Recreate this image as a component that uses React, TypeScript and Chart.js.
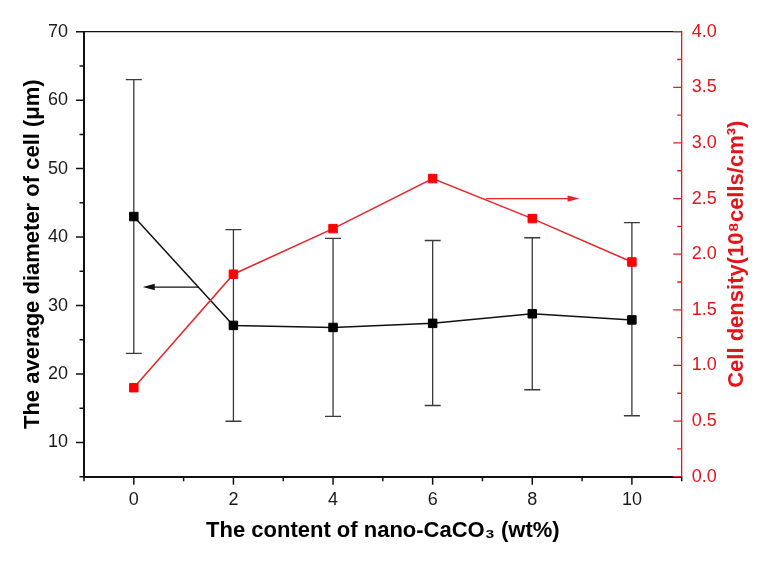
import React, { useEffect, useRef } from 'react';
import { Chart, registerables } from 'chart.js';
Chart.register(...registerables);

// ---- data ----
const contents = [0, 2, 4, 6, 8, 10];
const diameter = [43.0, 27.1, 26.8, 27.4, 28.8, 27.9];
const diameterUpper = [63.0, 41.1, 39.8, 39.5, 39.9, 42.1];
const diameterLower = [23.0, 13.1, 13.8, 15.4, 17.7, 13.9];
const cellDensity = [0.8, 1.82, 2.23, 2.68, 2.32, 1.93];

// ---- ticks ----
const xTicks = [0, 2, 4, 6, 8, 10];
const xMinorTicks = [-1, 1, 3, 5, 7, 9, 11];
const leftTicks = [10, 20, 30, 40, 50, 60, 70];
const leftMinorTicks = [5, 15, 25, 35, 45, 55, 65];
const rightTicks = [0, 0.5, 1, 1.5, 2, 2.5, 3, 3.5, 4];
const rightMinorTicks = [0.25, 0.75, 1.25, 1.75, 2.25, 2.75, 3.25, 3.75];

// ---- annotation arrows: [x from, x to, y] ----
const leftArrow = [1.3, 0.18, 32.7];
const rightArrow = [7.07, 8.95, 2.5];

const xTitle = 'The content of nano-CaCO\u2083 (wt%)';
const leftTitle = 'The average diameter of cell (\u03bcm)';
const rightTitle = 'Cell density(10\u2078cells/cm\u00b3)';

const FONT = "'Liberation Sans', Arial, sans-serif";
const RED = '#ff0000';
const RED_TEXT = '#e4141b';
const BLACK = '#111111';

function arrow(ctx: CanvasRenderingContext2D, x1: number, x2: number, y: number, color: string) {
  ctx.strokeStyle = color;
  ctx.fillStyle = color;
  ctx.lineWidth = 1.3;
  const dir = x2 > x1 ? 1 : -1;
  ctx.beginPath();
  ctx.moveTo(x1, y);
  ctx.lineTo(x2 - dir * 6, y);
  ctx.stroke();
  ctx.beginPath();
  ctx.moveTo(x2, y);
  ctx.lineTo(x2 - dir * 12, y - 3.2);
  ctx.lineTo(x2 - dir * 12, y + 3.2);
  ctx.closePath();
  ctx.fill();
}

const decor = {
  id: 'decor',
  beforeDatasetsDraw(chart: any) {
    const { ctx, scales } = chart;
    const x = scales.x, yL = scales.yL, yR = scales.yR;
    ctx.save();
    ctx.strokeStyle = '#3a3a3a';
    ctx.lineWidth = 1.3;
    contents.forEach((c, i) => {
      const px = x.getPixelForValue(c);
      const top = yL.getPixelForValue(diameterUpper[i]);
      const bot = yL.getPixelForValue(diameterLower[i]);
      ctx.beginPath();
      ctx.moveTo(px, top);
      ctx.lineTo(px, bot);
      ctx.moveTo(px - 8, top);
      ctx.lineTo(px + 8, top);
      ctx.moveTo(px - 8, bot);
      ctx.lineTo(px + 8, bot);
      ctx.stroke();
    });
    arrow(ctx, x.getPixelForValue(leftArrow[0]), x.getPixelForValue(leftArrow[1]), yL.getPixelForValue(leftArrow[2]), BLACK);
    arrow(ctx, x.getPixelForValue(rightArrow[0]), x.getPixelForValue(rightArrow[1]), yR.getPixelForValue(rightArrow[2]), '#e8262a');
    ctx.restore();
  },
  afterDraw(chart: any) {
    const { ctx, scales, chartArea } = chart;
    const x = scales.x, yL = scales.yL, yR = scales.yR;
    const { left, right, top, bottom } = chartArea;
    ctx.save();
    // top frame
    ctx.strokeStyle = BLACK;
    ctx.lineWidth = 1.3;
    ctx.beginPath();
    ctx.moveTo(left, top);
    ctx.lineTo(right, top);
    ctx.stroke();
    // bottom ticks
    ctx.lineWidth = 1.5;
    ctx.beginPath();
    xTicks.forEach(v => { const p = x.getPixelForValue(v); ctx.moveTo(p, bottom); ctx.lineTo(p, bottom + 8); });
    xMinorTicks.forEach(v => { const p = x.getPixelForValue(v); ctx.moveTo(p, bottom); ctx.lineTo(p, bottom + 4.5); });
    ctx.stroke();
    // left ticks
    ctx.beginPath();
    leftTicks.forEach(v => { const p = yL.getPixelForValue(v); ctx.moveTo(left, p); ctx.lineTo(left - 8, p); });
    leftMinorTicks.forEach(v => { const p = yL.getPixelForValue(v); ctx.moveTo(left, p); ctx.lineTo(left - 4.5, p); });
    ctx.stroke();
    // right ticks (inward)
    ctx.strokeStyle = '#e02020';
    ctx.lineWidth = 1.3;
    ctx.beginPath();
    rightTicks.forEach(v => { const p = yR.getPixelForValue(v); ctx.moveTo(right, p); ctx.lineTo(right - 8.5, p); });
    rightMinorTicks.forEach(v => { const p = yR.getPixelForValue(v); ctx.moveTo(right, p); ctx.lineTo(right - 4.5, p); });
    ctx.stroke();
    // right title (reads bottom to top)
    ctx.translate(737, (top + bottom) / 2);
    ctx.rotate(-Math.PI / 2);
    ctx.font = `bold 22px ${FONT}`;
    ctx.fillStyle = RED_TEXT;
    ctx.textAlign = 'center';
    ctx.textBaseline = 'middle';
    ctx.fillText(rightTitle, 0, 0);
    ctx.restore();
  },
};

export default function App() {
  const ref = useRef<HTMLCanvasElement | null>(null);
  useEffect(() => {
    if (!ref.current) return;
    Chart.defaults.font.family = FONT;
    const chart = new Chart(ref.current, {
      type: 'line',
      data: {
        datasets: [
          {
            label: 'Cell density',
            data: contents.map((c, i) => ({ x: c, y: cellDensity[i] })),
            yAxisID: 'yR',
            borderColor: '#e8262a',
            backgroundColor: RED,
            borderWidth: 1.5,
            pointStyle: 'rect',
            pointRadius: 6,
            pointBorderWidth: 1,
            pointBorderColor: RED,
            pointBackgroundColor: RED,
          },
          {
            label: 'Average diameter',
            data: contents.map((c, i) => ({ x: c, y: diameter[i] })),
            yAxisID: 'yL',
            borderColor: BLACK,
            backgroundColor: '#000',
            borderWidth: 1.5,
            pointStyle: 'rect',
            pointRadius: 6,
            pointBorderWidth: 1,
            pointBorderColor: '#000',
            pointBackgroundColor: '#000',
          },
        ],
      },
      options: {
        animation: false,
        responsive: false,
        devicePixelRatio: 1,
        layout: { padding: { top: 31.7, left: 0, right: 0, bottom: 0 } },
        plugins: { legend: { display: false }, tooltip: { enabled: false } },
        scales: {
          x: {
            type: 'linear',
            min: -1,
            max: 11,
            afterBuildTicks: (s: any) => { s.ticks = xTicks.map(v => ({ value: v })); },
            afterFit: (s: any) => { s.height = 87.3; },
            grid: { display: false, drawTicks: false },
            border: { display: true, color: BLACK, width: 2 },
            ticks: { color: '#1a1a1a', font: { size: 18 }, padding: 12.5, callback: (v: any) => String(v) },
            title: { display: true, text: xTitle, color: '#000', font: { size: 22, weight: 'bold' }, padding: { top: 0, bottom: 19.8 } },
          },
          yL: {
            type: 'linear',
            position: 'left',
            min: 5,
            max: 70,
            afterBuildTicks: (s: any) => { s.ticks = leftTicks.map(v => ({ value: v })); },
            afterFit: (s: any) => { s.width = 84; },
            grid: { display: false, drawTicks: false },
            border: { display: true, color: BLACK, width: 2 },
            ticks: { color: '#1a1a1a', font: { size: 18 }, padding: 16, callback: (v: any) => String(v) },
            title: { display: true, text: leftTitle, color: '#000', font: { size: 22, weight: 'bold' }, padding: { top: 19.8, bottom: 0 } },
          },
          yR: {
            type: 'linear',
            position: 'right',
            min: 0,
            max: 4,
            afterBuildTicks: (s: any) => { s.ticks = rightTicks.map(v => ({ value: v })); },
            afterFit: (s: any) => { s.width = 90.3; },
            grid: { display: false, drawTicks: false },
            border: { display: true, color: '#e02020', width: 1.3 },
            ticks: { color: RED_TEXT, font: { size: 18 }, padding: 10, callback: (v: any) => Number(v).toFixed(1) },
          },
        },
      },
      plugins: [decor],
    } as any);
    return () => chart.destroy();
  }, []);
  return (
    <div style={{ position: 'fixed', left: 0, top: 0, width: 772, height: 564, background: '#fff' }}>
      <canvas ref={ref} width={772} height={564} style={{ display: 'block' }} />
    </div>
  );
}
